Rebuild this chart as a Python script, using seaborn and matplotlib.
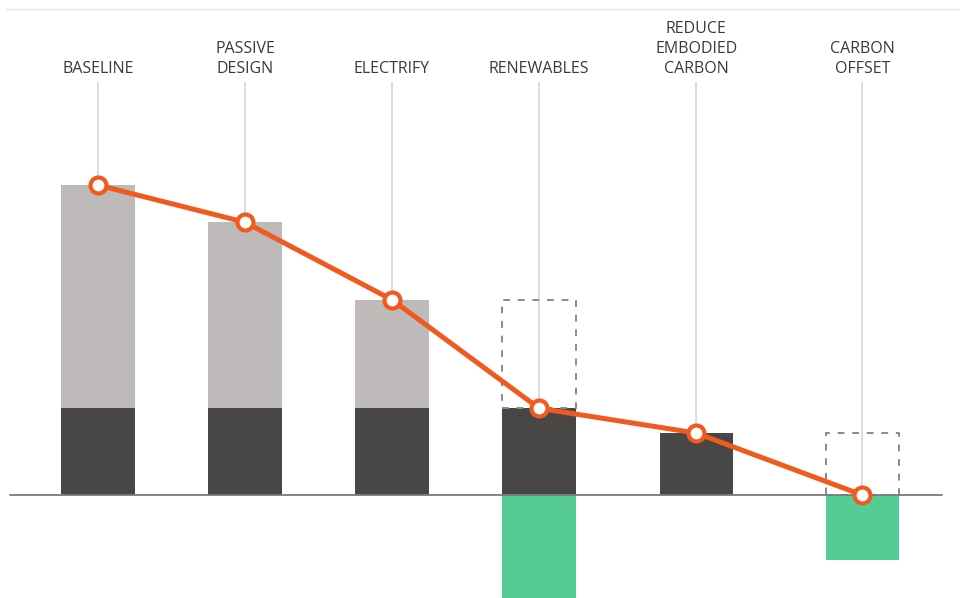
import matplotlib
matplotlib.use("Agg")
import matplotlib.pyplot as plt
from matplotlib.lines import Line2D
import seaborn as sns
import pandas as pd

# Decarbonisation pathway: embodied + operational carbon per step
steps = ["BASELINE", "PASSIVE\nDESIGN", "ELECTRIFY", "RENEWABLES",
         "REDUCE\nEMBODIED\nCARBON", "CARBON\nOFFSET"]
slots = [0, 1, 2, 3, 4.07, 5.2]
embodied = [28, 28, 28, 28, 20, 0]
operational = [72, 60, 35, 0, 0, 0]
removed_bottom = [0, 0, 0, 28, 0, 0]
removed = [0, 0, 0, 35, 0, 20]
offset = [0, 0, 0, -35, 0, -21]
net = [100, 88, 63, 28, 20, 0]

LIGHT = "#BEBAB9"
DARK = "#494745"
GREEN = "#55CC95"
ORANGE = "#F05A1E"
GUIDE = "#D6D6D6"

sns.set_theme(style="white")
plt.rcParams["font.family"] = ["Open Sans", "DejaVu Sans"]

fig = plt.figure(figsize=(9.6, 5.98), dpi=100)
ax = fig.add_axes([0, 0, 1, 1])

df = pd.DataFrame({"step": steps, "slot": slots, "embodied": embodied,
                   "operational": operational, "net": net})

w = 0.5
# guide lines from labels down to each net point
for x, v in zip(slots, net):
    ax.plot([x, x], [v, 133.2], color=GUIDE, lw=1.2, zorder=1,
            solid_capstyle="butt")

ax.bar(slots, embodied, width=w, color=DARK, zorder=2, linewidth=0)
ax.bar(slots, operational, bottom=embodied, width=w, color=LIGHT,
       zorder=2, linewidth=0)
ax.bar(slots, offset, width=w, color=GREEN, zorder=2, linewidth=0)
for x, b, h in zip(slots, removed_bottom, removed):
    if h:
        ax.bar(x, h, bottom=b, width=w, fill=False, edgecolor="#8A8A8A",
               linewidth=1.4, linestyle=(0, (3.5, 4)), zorder=2)

# zero line
ax.plot([-0.6, 5.74], [0, 0], color="#7A7A7A", lw=1.3, zorder=3)

sns.lineplot(data=df, x="slot", y="net", ax=ax, color=ORANGE, lw=3.6,
             marker="o", markersize=11.5, markerfacecolor="white",
             markeredgecolor=ORANGE, markeredgewidth=3, zorder=5)

for x, s in zip(slots, steps):
    ax.text(x, 134.8, s, ha="center", va="bottom", fontsize=11.5,
            color="#3A3A3A", linespacing=1.33)

ax.set_xlim(-0.667, 5.864)
ax.set_ylim(-33.2, 159.7)
ax.axis("off")

fig.add_artist(Line2D([6 / 960, 1], [1 - 9 / 598, 1 - 9 / 598],
                      color="#E4E4E4", lw=1.0))

fig.savefig("out.png", dpi=100, facecolor="white")
